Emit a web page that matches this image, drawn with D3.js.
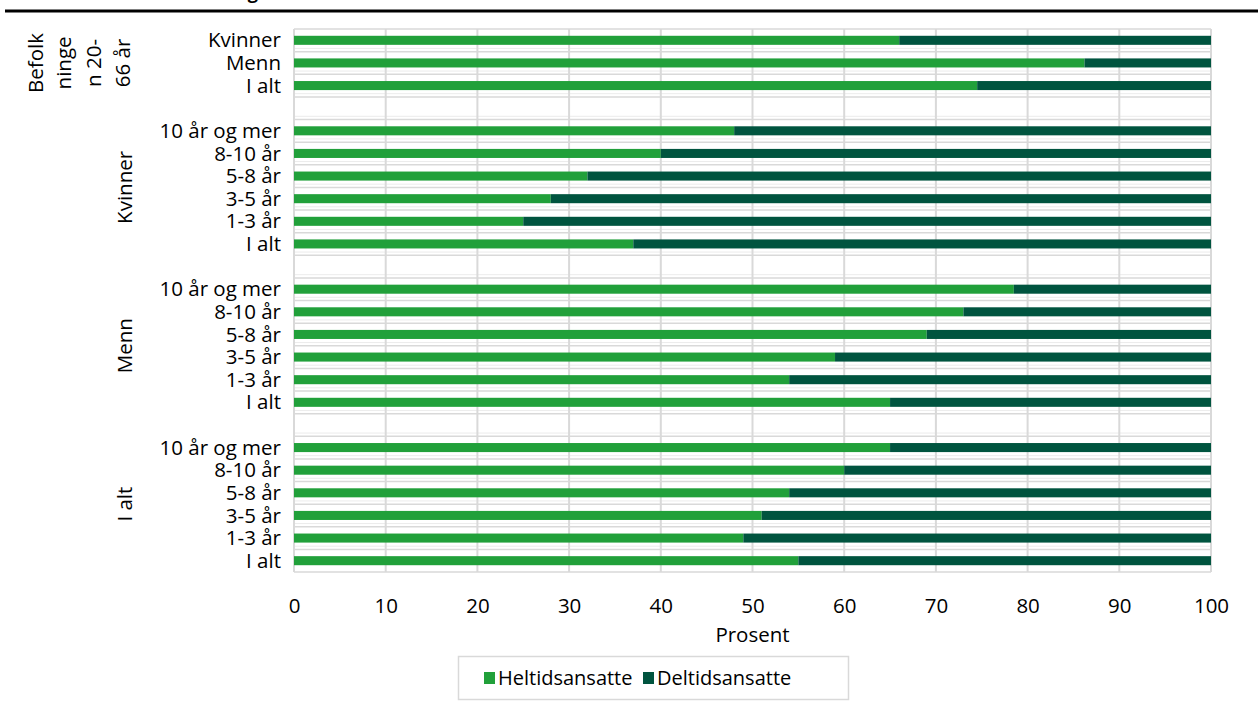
<!DOCTYPE html>
<html>
<head>
<meta charset="utf-8">
<script src="https://cdn.jsdelivr.net/npm/d3@7"></script>
<style>
  html, body { margin: 0; padding: 0; background: #fff; }
  svg { display: block; font-family: "Open Sans", sans-serif; }
</style>
</head>
<body>
<svg id="chart" width="1258" height="706"></svg>
<script>
// ---- Data ----
const groupNames = ["Befolkningen 20-66 år", "Kvinner", "Menn", "I alt"];
const groupLabelLines = [["Befolk", "ninge", "n 20-", "66 år"], ["Kvinner"], ["Menn"], ["I alt"]];
const befolkningCats = ["Kvinner", "Menn", "I alt"];
const ansiennitetCats = ["10 år og mer", "8-10 år", "5-8 år", "3-5 år", "1-3 år", "I alt"];

const heltidBefolkning = [66, 86.2, 74.5];
const deltidBefolkning = [34, 13.8, 25.5];
const heltidKvinner = [48, 40, 32, 28, 25, 37];
const deltidKvinner = [52, 60, 68, 72, 75, 63];
const heltidMenn = [78.5, 73, 69, 59, 54, 65];
const deltidMenn = [21.5, 27, 31, 41, 46, 35];
const heltidIalt = [65, 60, 54, 51, 49, 55];
const deltidIalt = [35, 40, 46, 49, 51, 45];

const seriesNames = ["Heltidsansatte", "Deltidsansatte"];
const xTicks = [0, 10, 20, 30, 40, 50, 60, 70, 80, 90, 100];
const xTitle = "Prosent";
const colors = ["#21a03a", "#00543f"];

// ---- Build rows (with spacer rows between groups) ----
const groupCats = [befolkningCats, ansiennitetCats, ansiennitetCats, ansiennitetCats];
const groupHel = [heltidBefolkning, heltidKvinner, heltidMenn, heltidIalt];
const groupDel = [deltidBefolkning, deltidKvinner, deltidMenn, deltidIalt];
const rows = [];
groupCats.forEach((cats, gi) => {
  if (gi > 0) rows.push({ key: "gap" + gi, gap: true });
  cats.forEach((c, i) => rows.push({ key: gi + "|" + c, label: c, group: gi, hel: groupHel[gi][i], del: groupDel[gi][i] }));
});

// ---- Layout ----
const svg = d3.select("#chart");
const pLeft = 294, pRight = 1211, pTop = 29, pBottom = 572;
const fs = 20.5;

const x = d3.scaleLinear().domain([0, 100]).range([pLeft, pRight]);
const y = d3.scaleBand().domain(rows.map(r => r.key)).range([pTop, pBottom]).paddingInner(0.6).paddingOuter(0.3);
const step = y.step();

// Top rule and clipped title
svg.append("text").attr("x", 258).attr("y", -1).attr("text-anchor", "end")
  .attr("font-size", 18).attr("font-weight", 700).attr("fill", "#000")
  .text("Arbeidstid etter ansiennitet. Fordeling");
svg.append("line").attr("x1", 5).attr("x2", 1258).attr("y1", 11).attr("y2", 11)
  .attr("stroke", "#000").attr("stroke-width", 3);

// Horizontal gridlines at row boundaries
const boundaries = d3.range(rows.length + 1).map(i => pTop + i * step);
const grid = svg.append("g");
boundaries.forEach((b, i) => {
  if (i > 0 && i < rows.length) {
    grid.append("line").attr("x1", pLeft).attr("x2", pRight).attr("y1", b - 3.2).attr("y2", b - 3.2)
      .attr("stroke", "#ececec").attr("stroke-width", 1);
  }
  grid.append("line").attr("x1", pLeft).attr("x2", pRight).attr("y1", b).attr("y2", b)
    .attr("stroke", "#d9d9d9").attr("stroke-width", 1.5);
});
// Vertical gridlines
xTicks.forEach(t => {
  grid.append("line").attr("x1", x(t)).attr("x2", x(t)).attr("y1", pTop).attr("y2", pBottom)
    .attr("stroke", "#d9d9d9").attr("stroke-width", 2);
});

// Bars
const dataRows = rows.filter(r => !r.gap);
const bars = svg.append("g");
bars.selectAll("rect.hel").data(dataRows).join("rect")
  .attr("class", "hel")
  .attr("x", x(0)).attr("y", d => y(d.key))
  .attr("width", d => x(d.hel) - x(0)).attr("height", y.bandwidth())
  .attr("fill", colors[0]);
bars.selectAll("rect.del").data(dataRows).join("rect")
  .attr("class", "del")
  .attr("x", d => x(d.hel)).attr("y", d => y(d.key))
  .attr("width", d => x(d.hel + d.del) - x(d.hel)).attr("height", y.bandwidth())
  .attr("fill", colors[1]);

// Category labels
svg.append("g").selectAll("text").data(dataRows).join("text")
  .attr("x", 281).attr("y", d => y(d.key) + y.bandwidth() / 2)
  .attr("dy", "0.35em").attr("text-anchor", "end")
  .attr("font-size", fs).attr("fill", "#000")
  .text(d => d.label);

// Group labels (rotated)
groupNames.forEach((g, gi) => {
  const gr = dataRows.filter(r => r.group === gi);
  const cy = (y(gr[0].key) + y(gr[gr.length - 1].key) + y.bandwidth()) / 2;
  const lines = groupLabelLines[gi];
  const baseX = lines.length > 1 ? [43, 71, 101, 130] : [132];
  lines.forEach((ln, li) => {
    svg.append("text")
      .attr("transform", `translate(${baseX[li]},${cy}) rotate(-90)`)
      .attr("text-anchor", "middle").attr("font-size", fs).attr("fill", "#000")
      .text(ln);
  });
});

// X axis
const xAxis = d3.axisBottom(x).tickValues(xTicks).tickSize(0).tickPadding(0);
const ax = svg.append("g").attr("transform", `translate(0,${pBottom})`).call(xAxis);
ax.select(".domain").remove();
ax.selectAll("text").attr("font-size", fs).attr("fill", "#000")
  .attr("font-family", "Open Sans, sans-serif").attr("y", 34).attr("dy", "0.35em");

svg.append("text").attr("x", (pLeft + pRight) / 2).attr("y", 642).attr("text-anchor", "middle")
  .attr("font-size", fs).attr("fill", "#000").text(xTitle);

// Legend
const lg = svg.append("g");
lg.append("rect").attr("x", 458.5).attr("y", 656.5).attr("width", 390).attr("height", 43)
  .attr("fill", "#fff").attr("stroke", "#d9d9d9").attr("stroke-width", 1.5);
const legX = [484, 643];
seriesNames.forEach((s, i) => {
  lg.append("rect").attr("x", legX[i]).attr("y", 672).attr("width", 11).attr("height", 12).attr("fill", colors[i]);
  lg.append("text").attr("x", legX[i] + 14).attr("y", 678).attr("dy", "0.35em")
    .attr("font-size", 20).attr("fill", "#000").text(s);
});
</script>
</body>
</html>
